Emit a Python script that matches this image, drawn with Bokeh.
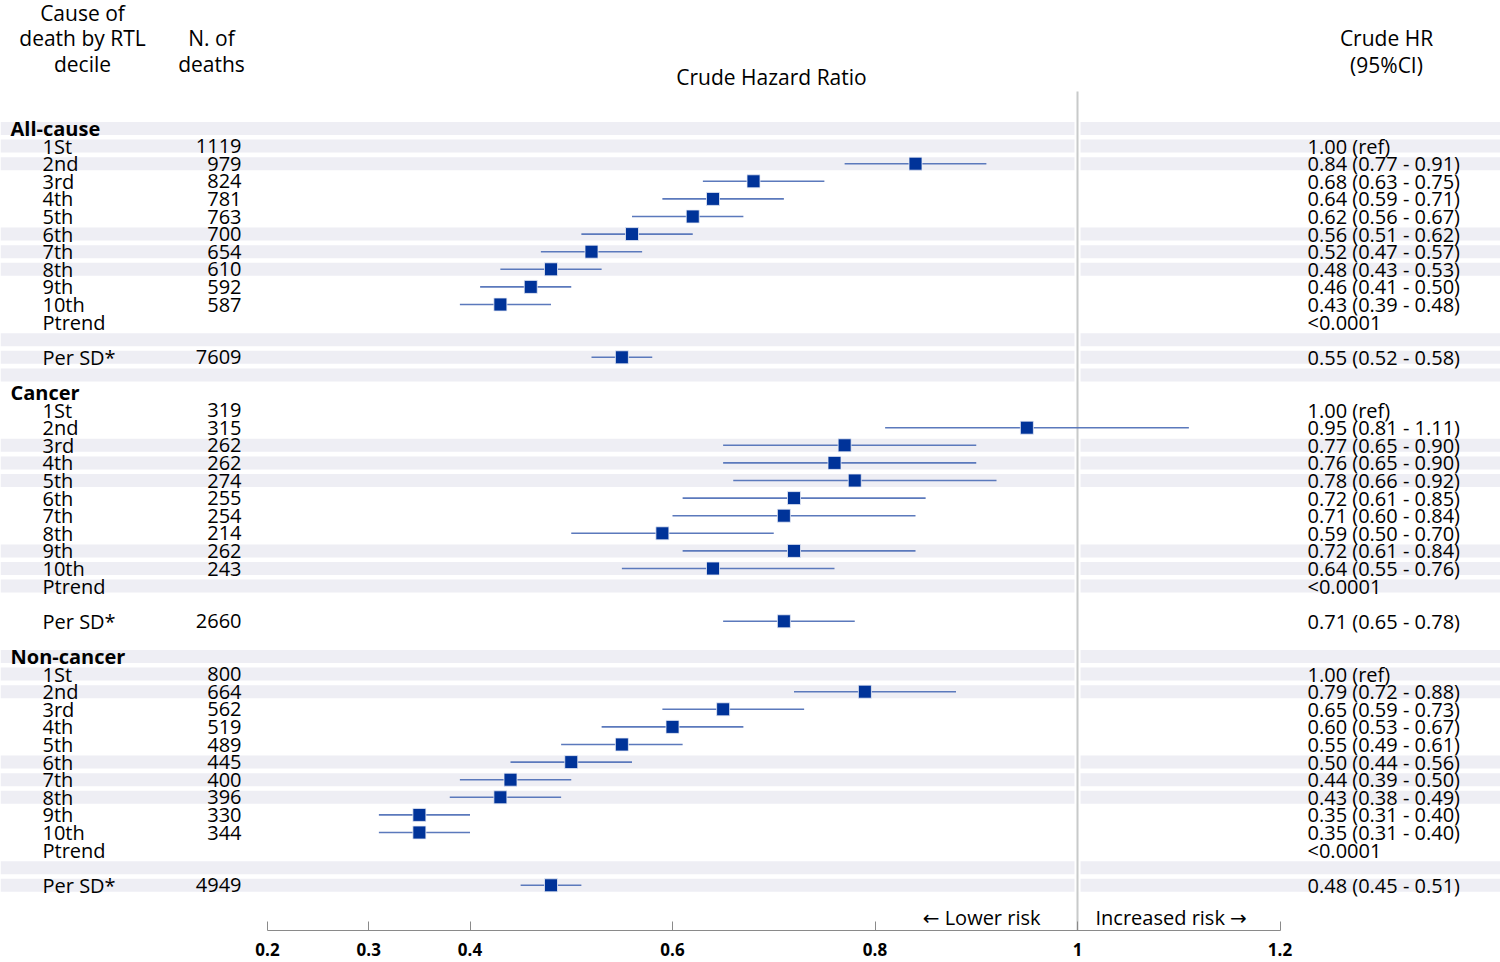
from bokeh.plotting import figure
from bokeh.models import Range1d, LinearAxis, FixedTicker, ColumnDataSource
from bokeh.core.properties import value
from bokeh.embed import file_html
from bokeh.resources import INLINE

# ---------------- data ----------------
groups = ["All-cause", "Cancer", "Non-cancer"]
deciles = ["1St", "2nd", "3rd", "4th", "5th", "6th", "7th", "8th", "9th", "10th"]

deaths_all = [1119, 979, 824, 781, 763, 700, 654, 610, 592, 587]
hr_all = [1.00, 0.84, 0.68, 0.64, 0.62, 0.56, 0.52, 0.48, 0.46, 0.43]
lo_all = [None, 0.77, 0.63, 0.59, 0.56, 0.51, 0.47, 0.43, 0.41, 0.39]
hi_all = [None, 0.91, 0.75, 0.71, 0.67, 0.62, 0.57, 0.53, 0.50, 0.48]
persd_deaths_all = 7609
persd_all = [0.55, 0.52, 0.58]

deaths_can = [319, 315, 262, 262, 274, 255, 254, 214, 262, 243]
hr_can = [1.00, 0.95, 0.77, 0.76, 0.78, 0.72, 0.71, 0.59, 0.72, 0.64]
lo_can = [None, 0.81, 0.65, 0.65, 0.66, 0.61, 0.60, 0.50, 0.61, 0.55]
hi_can = [None, 1.11, 0.90, 0.90, 0.92, 0.85, 0.84, 0.70, 0.84, 0.76]
persd_deaths_can = 2660
persd_can = [0.71, 0.65, 0.78]

deaths_non = [800, 664, 562, 519, 489, 445, 400, 396, 330, 344]
hr_non = [1.00, 0.79, 0.65, 0.60, 0.55, 0.50, 0.44, 0.43, 0.35, 0.35]
lo_non = [None, 0.72, 0.59, 0.53, 0.49, 0.44, 0.39, 0.38, 0.31, 0.31]
hi_non = [None, 0.88, 0.73, 0.67, 0.61, 0.56, 0.50, 0.49, 0.40, 0.40]
persd_deaths_non = 4949
persd_non = [0.48, 0.45, 0.51]

ptrend_text = ["<0.0001", "<0.0001", "<0.0001"]

tick_vals = [0.2, 0.3, 0.4, 0.6, 0.8, 1.0, 1.2]
tick_labels = ["0.2", "0.3", "0.4", "0.6", "0.8", "1", "1.2"]

# ---------------- assemble rows ----------------
sections = [
    (deaths_all, hr_all, lo_all, hi_all, persd_deaths_all, persd_all),
    (deaths_can, hr_can, lo_can, hi_can, persd_deaths_can, persd_can),
    (deaths_non, hr_non, lo_non, hi_non, persd_deaths_non, persd_non),
]

head_y, head_t = [], []
lab_y, lab_t = [], []
num_y, num_t = [], []
rt_y, rt_t = [], []
pt_y, pt_hr, pt_lo, pt_hi = [], [], [], []

for g, (dths, hr, lo, hi, pdn, psd) in enumerate(sections):
    base = 15 * g
    head_y.append(base)
    head_t.append(groups[g])
    for k in range(10):
        r = base + 1 + k
        lab_y.append(r); lab_t.append(deciles[k])
        num_y.append(r); num_t.append(str(dths[k]))
        rt_y.append(r)
        if lo[k] is None:
            rt_t.append("%.2f (ref)" % hr[k])
        else:
            rt_t.append("%.2f (%.2f - %.2f)" % (hr[k], lo[k], hi[k]))
            pt_y.append(r); pt_hr.append(hr[k]); pt_lo.append(lo[k]); pt_hi.append(hi[k])
    r = base + 11
    lab_y.append(r); lab_t.append("Ptrend")
    rt_y.append(r); rt_t.append(ptrend_text[g])
    r = base + 13
    lab_y.append(r); lab_t.append("Per SD*")
    num_y.append(r); num_t.append(str(pdn))
    rt_y.append(r); rt_t.append("%.2f (%.2f - %.2f)" % tuple(psd))
    pt_y.append(r); pt_hr.append(psd[0]); pt_lo.append(psd[1]); pt_hi.append(psd[2])

n_rows = 44
band_y = [i for i in range(n_rows) if (i // 3) % 2 == 0]

# ---------------- figure ----------------
FW, FH = 1500, 930
# pixel geometry: row i at y = 128 + 17.6 i ; hr at x = 267 + (hr-0.2)*1012.5
x0 = 0.2 + (0 - 267) / 1012.5
x1 = 0.2 + (FW - 267) / 1012.5
y_top = (0 - 128) / 17.6
y_bot = (FH - 128) / 17.6

p = figure(frame_width=FW, frame_height=FH, output_backend="svg",
           toolbar_location=None, x_axis_type=None, y_axis_type=None,
           x_range=Range1d(x0, x1), y_range=Range1d(y_bot, y_top),
           min_border=0, min_border_bottom=32)
p.outline_line_color = None
p.background_fill_color = "white"
p.border_fill_color = "white"
p.extra_x_ranges = {"px": Range1d(0, FW)}
p.extra_y_ranges = {"py": Range1d(FH, 0)}

FONT = value("Open Sans")
FONT_ARROW = value("'Open Sans', 'DejaVu Sans'")

# bands
p.hbar(y=band_y, left=-5, right=5, height=0.74, fill_color="#EEEEF4", line_color=None)

# reference line at HR = 1
p.segment(x0=[1.0], x1=[1.0], y0=[(91 - 128) / 17.6], y1=[y_bot],
          line_color="white", line_width=6)
p.segment(x0=[1.0], x1=[1.0], y0=[(91 - 128) / 17.6], y1=[y_bot],
          line_color="#C8CACA", line_width=2)

# CIs and points
src = ColumnDataSource(dict(y=pt_y, hr=pt_hr, lo=pt_lo, hi=pt_hi))
p.segment(x0="lo", x1="hi", y0="y", y1="y", source=src,
          line_color="#5B79BC", line_width=1.6)
p.scatter(x="hr", y="y", source=src, marker="square", size=13,
          fill_color="#003399", line_color="#E8ECF6", line_width=0.8)

# texts
p.text(x=[10] * len(head_y), y=head_y, text=head_t, x_range_name="px",
       text_font=FONT, text_font_size="20px", text_font_style="bold",
       text_baseline="middle", text_align="left", text_color="black")
p.text(x=[42] * len(lab_y), y=lab_y, text=lab_t, x_range_name="px",
       text_font=FONT, text_font_size="20px",
       text_baseline="middle", text_align="left", text_color="black")
p.text(x=[241] * len(num_y), y=num_y, text=num_t, x_range_name="px",
       text_font=FONT, text_font_size="20px",
       text_baseline="middle", text_align="right", text_color="black")
p.text(x=[1307] * len(rt_y), y=rt_y, text=rt_t, x_range_name="px",
       text_font=FONT, text_font_size="20px",
       text_baseline="middle", text_align="left", text_color="black")

# column headers
hdr_x = [82, 82, 82, 211, 211, 771, 1386, 1386]
hdr_y = [12, 37, 63, 37, 63, 76, 37, 64]
hdr_t = ["Cause of", "death by RTL", "decile", "N. of", "deaths",
         "Crude Hazard Ratio", "Crude HR", "(95%CI)"]
p.text(x=hdr_x, y=hdr_y, text=hdr_t, x_range_name="px", y_range_name="py",
       text_font=FONT, text_font_size="21px",
       text_baseline="middle", text_align="center", text_color="black")

# risk direction labels
p.text(x=[1040], y=[917], text=["\u2190 Lower risk"], x_range_name="px", y_range_name="py",
       text_font=FONT_ARROW, text_font_size="20px", text_baseline="middle",
       text_align="right", text_color="black")
p.text(x=[1095], y=[917], text=["Increased risk \u2192"], x_range_name="px", y_range_name="py",
       text_font=FONT_ARROW, text_font_size="20px", text_baseline="middle",
       text_align="left", text_color="black")

# x axis
ax = LinearAxis(ticker=FixedTicker(ticks=tick_vals), bounds=(0.2, 1.2))
ax.major_label_overrides = {v: l for v, l in zip(tick_vals, tick_labels)}
ax.axis_line_color = "#8A8A8A"
ax.major_tick_line_color = "#8A8A8A"
ax.major_tick_in = 9
ax.major_tick_out = 0
ax.minor_tick_line_color = None
ax.major_label_standoff = 12
ax.major_label_text_font = "Open Sans"
ax.major_label_text_font_size = "17px"
ax.major_label_text_font_style = "bold"
ax.major_label_text_color = "black"
p.add_layout(ax, "below")

open("out.html", "w").write(file_html(p, INLINE))
